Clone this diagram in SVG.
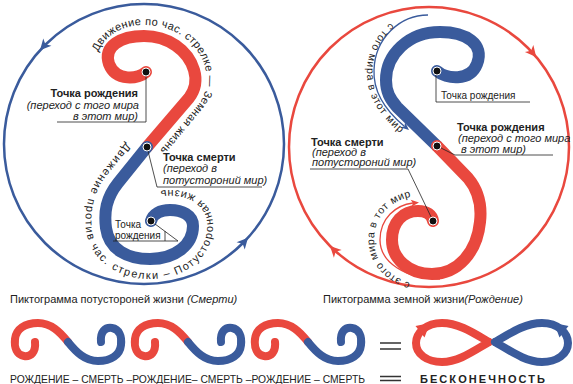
<svg xmlns="http://www.w3.org/2000/svg" width="573" height="384" viewBox="0 0 573 384">
<style>
.r{fill:none;stroke:#e9483e;stroke-width:12;stroke-linecap:round}
.b{fill:none;stroke:#3a5b9c;stroke-width:12;stroke-linecap:round}
.rs{fill:none;stroke:#e9483e;stroke-width:8;stroke-linecap:round}
.bs{fill:none;stroke:#3a5b9c;stroke-width:8;stroke-linecap:round}
.ld{fill:none;stroke:#222;stroke-width:0.8}
.dot{fill:#111;stroke:#fff;stroke-width:1}
text{font-family:"Liberation Sans",Arial,sans-serif;fill:#222}
.bd{font-weight:bold;font-size:11px}
.it{font-style:italic;font-size:11px}
.rg{font-size:10px}
.arc{font-size:11px}
.arc2{font-size:10.5px}
.cap{font-size:11px}
</style>
<defs>
<path id="tp1" d="M97,70 C92,44 116,25 144,25 C174,25 198,42 205,67 C209,82 206,95 198,105 L158,153"/>
<path id="tp2" d="M131,136 L102,172 C88,190 84,210 86,230 C90,262 120,279 150,279 C187,279 213,256 213,226 C213,202 192,190 170,190 C160,190 150,193 143,199"/>
<path id="tp3" d="M428,10 C396,10 368,36 367,70 C366,95 378,114 400,133"/>
<path id="tp4" d="M432,286 C400,286 374,267 374,240 C374,215 392,200 414,196"/>
</defs>

<g id="left-circle">
<circle cx="144" cy="144" r="140" fill="none" stroke="#3a5b9c" stroke-width="2.5"/>
<path d="M0,0 L-11,-5.5 L-8,0 L-11,5.5 Z" fill="#3a5b9c" transform="translate(40,50.3) rotate(132)"/>
<path d="M0,0 L-11,-5.5 L-8,0 L-11,5.5 Z" fill="#3a5b9c" transform="translate(248,237.7) rotate(-48)"/>
</g>
<g id="right-circle">
<circle cx="429" cy="147" r="140" fill="none" stroke="#e9483e" stroke-width="2.5"/>
<path d="M0,0 L-11,-5.5 L-8,0 L-11,5.5 Z" fill="#e9483e" transform="translate(536.2,57) rotate(50)"/>
<path d="M0,0 L-11,-5.5 L-8,0 L-11,5.5 Z" fill="#e9483e" transform="translate(330,246) rotate(-135)"/>
</g>

<g id="left-s">
<path class="r" d="M146,72 C139,79 116,82 109,64 C103,46 121,36 144,36 C168,36 188,50 194,70 C197,80 195,90 189,98 L147,147"/>
<path class="b" d="M147,147 L118,183 C106,198 104,212 106,228 C109,250 128,259 150,259 C175,259 193,245 193,226 C193,215 182,210 170,210 C160,210 153,214 151,221"/>
<text class="arc" letter-spacing="0.35"><textPath href="#tp1" startOffset="18">Движение по час. стрелке — Земная жизнь</textPath></text>
<text class="arc" letter-spacing="1.5"><textPath href="#tp2" startOffset="8">Движение против час. стрелки – Потусторонная жизнь</textPath></text>
</g>

<g id="left-birth">
<path class="ld" d="M146,72 V122 H57"/>
<circle class="dot" cx="146" cy="72" r="4"/>
<text class="bd" x="138" y="97" text-anchor="end">Точка рождения</text>
<text class="it" x="139" y="109" text-anchor="end">(переход с того мира</text>
<text class="it" x="138" y="120" text-anchor="end">в этот мир)</text>
</g>
<g id="left-death">
<path class="ld" d="M147,147 L157,187 H262"/>
<circle class="dot" cx="147" cy="147" r="4"/>
<text class="bd" x="163" y="161">Точка смерти</text>
<text class="it" x="163" y="172">(переход в</text>
<text class="it" x="163" y="184">потустороний мир)</text>
</g>
<g id="left-birth2">
<path class="ld" d="M151,221 L178,241 H113 M165,231 V241"/>
<circle class="dot" cx="151" cy="221" r="4"/>
<text class="rg" x="115" y="228">Точка</text>
<text class="rg" x="115" y="239">рождения</text>
</g>

<g id="right-s">
<path class="b" d="M437,71 C446,79 470,82 477,64 C485,44 466,32 440,32 C408,32 386,55 386,80 C386,92 390,99 397,107 L437,146"/>
<path class="r" d="M437,146 L468,178 C478,190 482,205 480,222 C477,252 458,274 432,274 C408,274 392,258 392,240 C392,222 403,211 418,211 C427,211 432,215 433,221"/>
<path d="M428,15 C400,15 375,38 374,70 C373,92 385,110 404,126" fill="none" stroke="#3a5b9c" stroke-width="1.3"/>
<path d="M0,0 L-8,-3.5 L-6,0 L-8,3.5 Z" fill="#3a5b9c" transform="translate(409,130) rotate(40)"/>
<path d="M440,279 C405,279 380,262 380,240 C380,218 396,205 413,203" fill="none" stroke="#e9483e" stroke-width="1.3"/>
<path d="M0,0 L-8,-3.5 L-6,0 L-8,3.5 Z" fill="#e9483e" transform="translate(419,202.5) rotate(-6)"/>
<text class="arc2" letter-spacing="0.9"><textPath href="#tp3" startOffset="40">с того мира в этот мир</textPath></text>
<text class="arc2" letter-spacing="0.6"><textPath href="#tp4" startOffset="22">с этого мира в тот мир</textPath></text>
</g>

<g id="right-birth-top">
<path class="ld" d="M436,71 V102 H530"/>
<circle class="dot" cx="437" cy="71" r="4"/>
<text class="rg" x="441" y="99">Точка рождения</text>
</g>
<g id="right-birth">
<path class="ld" d="M437,146 L455,155 H553"/>
<circle class="dot" cx="437" cy="146" r="4"/>
<text class="bd" x="457" y="131">Точка рождения</text>
<text class="it" x="458" y="142">(переход с того мира</text>
<text class="it" x="461" y="153">в этот мир)</text>
</g>
<g id="right-death">
<path class="ld" d="M433,221 L408,169 H310"/>
<circle class="dot" cx="433" cy="221" r="4"/>
<text class="bd" x="311" y="146">Точка смерти</text>
<text class="it" x="312" y="156">(переход в</text>
<text class="it" x="312" y="166">потустороний мир)</text>
</g>

<g id="captions">
<text class="cap" x="10" y="303">Пиктограмма потустороней жизни <tspan font-style="italic">(Смерти)</tspan></text>
<text class="cap" x="323" y="303">Пиктограмма земной жизни<tspan font-style="italic">(Рождение)</tspan></text>
</g>

<g id="chain">
<g transform="translate(68,342)"><path class="rs" d="M-33,0 C-32,10 -37,15 -44,14 C-51,13 -54,6 -53,-3 C-52,-13 -43,-19 -30,-19 C-17,-19 -8,-10 0,0"/><path class="bs" d="M33,0 C32,-10 37,-15 44,-14 C51,-13 54,-6 53,3 C52,13 43,19 30,19 C17,19 8,10 0,0"/></g>
<g transform="translate(188,342)"><path class="rs" d="M-33,0 C-32,10 -37,15 -44,14 C-51,13 -54,6 -53,-3 C-52,-13 -43,-19 -30,-19 C-17,-19 -8,-10 0,0"/><path class="bs" d="M33,0 C32,-10 37,-15 44,-14 C51,-13 54,-6 53,3 C52,13 43,19 30,19 C17,19 8,10 0,0"/></g>
<g transform="translate(308,342)"><path class="rs" d="M-33,0 C-32,10 -37,15 -44,14 C-51,13 -54,6 -53,-3 C-52,-13 -43,-19 -30,-19 C-17,-19 -8,-10 0,0"/><path class="bs" d="M33,0 C32,-10 37,-15 44,-14 C51,-13 54,-6 53,3 C52,13 43,19 30,19 C17,19 8,10 0,0"/></g>
<text class="cap" x="10" y="383" textLength="355" lengthAdjust="spacingAndGlyphs">РОЖДЕНИЕ – СМЕРТЬ –РОЖДЕНИЕ– СМЕРТЬ –РОЖДЕНИЕ – СМЕРТЬ</text>
</g>

<g id="equals">
<path d="M380,343 H401 M380,349 H401 M380,376.5 H401 M380,380.5 H401" stroke="#333" stroke-width="1.6"/>
</g>

<g id="infinity">
<path class="rs" d="M489,342 C472,332 458,323 442,323 C426,323 416,333 416,343 C416,354 427,362 442,362 C458,362 472,352 489,342"/>
<path d="M430,323 L424.5,337.5 L415.5,326 Z" fill="#e9483e"/>
<path class="bs" d="M495,342 C512,332 526,323 542,323 C558,323 568,333 568,343 C568,354 557,362 542,362 C526,362 512,352 495,342"/>
<path d="M554,323 L559.5,337.5 L568.5,326 Z" fill="#3a5b9c"/>
<text x="420" y="383" font-weight="bold" font-size="11" textLength="125" lengthAdjust="spacing">БЕСКОНЕЧНОСТЬ</text>
</g>
</svg>
